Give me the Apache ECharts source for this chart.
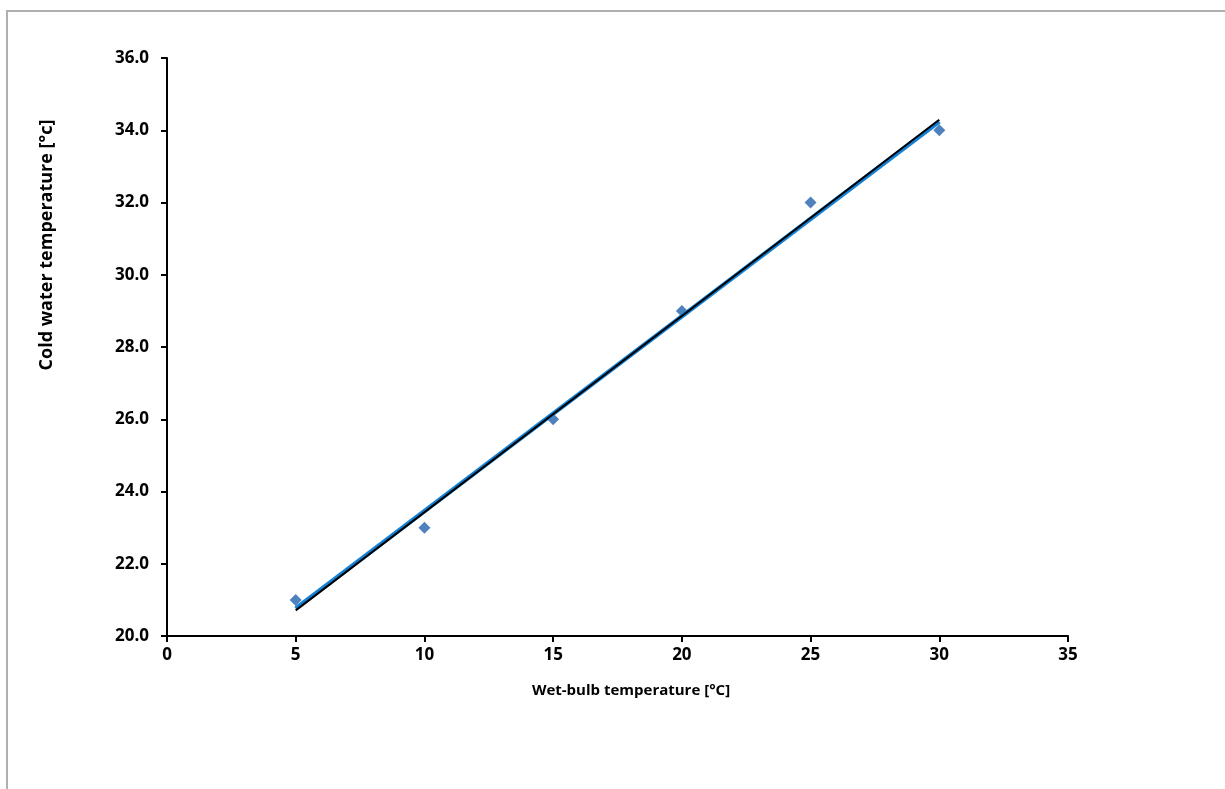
<!DOCTYPE html>
<html>
<head>
<meta charset="utf-8">
<script src="https://cdn.jsdelivr.net/npm/echarts@6/dist/echarts.min.js"></script>
<style>
html,body{margin:0;padding:0;background:#fff;}
#chart{width:1225px;height:789px;}
</style>
</head>
<body>
<div id="chart"></div>
<script>
// Data
const wetBulb = [5, 10, 15, 20, 25, 30];
const coldWater = [21, 23, 26, 29, 32, 34];
const trendX = [5, 30];
const blueTrend = [20.76, 34.24];
const blackTrend = [20.71, 34.29];
const xTitle = 'Wet-bulb temperature [°C]';
const yTitle = 'Cold water temperature [°c]';

const font = '"Open Sans", "Liberation Sans", sans-serif';
const chart = echarts.init(document.getElementById('chart'), null, {renderer: 'canvas'});

chart.setOption({
  animation: false,
  backgroundColor: '#ffffff',
  grid: {left: 167, right: 157, top: 58, bottom: 153, containLabel: false},
  xAxis: {
    type: 'value', min: 0, max: 35, interval: 5,
    axisLine: {show: true, lineStyle: {color: '#000', width: 2}},
    axisTick: {show: true, inside: false, length: 6, lineStyle: {color: '#000', width: 2}},
    axisLabel: {color: '#000', fontFamily: font, fontWeight: 'bold', fontSize: 17, margin: 11},
    splitLine: {show: false}
  },
  yAxis: {
    type: 'value', min: 20, max: 36, interval: 2,
    axisLine: {show: true, onZero: false, lineStyle: {color: '#000', width: 2}},
    axisTick: {show: true, inside: false, length: 6, lineStyle: {color: '#000', width: 2}},
    axisLabel: {color: '#000', fontFamily: font, fontWeight: 'bold', fontSize: 17, margin: 18,
      formatter: v => v.toFixed(1)},
    splitLine: {show: false}
  },
  graphic: [
    {type: 'rect', silent: true, z: -10, shape: {x: 7, y: 11, width: 1400, height: 1000},
      style: {fill: 'none', stroke: '#b0b0b0', lineWidth: 2}},
    {type: 'text', x: 631, y: 691, style: {text: xTitle, fill: '#000', font: 'bold 15px ' + font,
      textAlign: 'center', textVerticalAlign: 'middle'}},
    {type: 'text', x: 47, y: 245, rotation: Math.PI / 2, style: {text: yTitle, fill: '#000',
      font: 'bold 18px ' + font, textAlign: 'center', textVerticalAlign: 'middle'}}
  ],
  series: [
    {
      type: 'scatter', z: 1,
      symbol: 'diamond', symbolSize: 12,
      itemStyle: {color: '#4F81BD', opacity: 1},
      data: wetBulb.map((x, i) => [x, coldWater[i]])
    },
    {
      type: 'line', z: 2, symbol: 'none',
      lineStyle: {color: '#1382D6', width: 4.5},
      data: trendX.map((x, i) => [x, blueTrend[i]])
    },
    {
      type: 'line', z: 3, symbol: 'none',
      lineStyle: {color: '#000', width: 2},
      data: trendX.map((x, i) => [x, blackTrend[i]])
    }
  ]
});
</script>
</body>
</html>
